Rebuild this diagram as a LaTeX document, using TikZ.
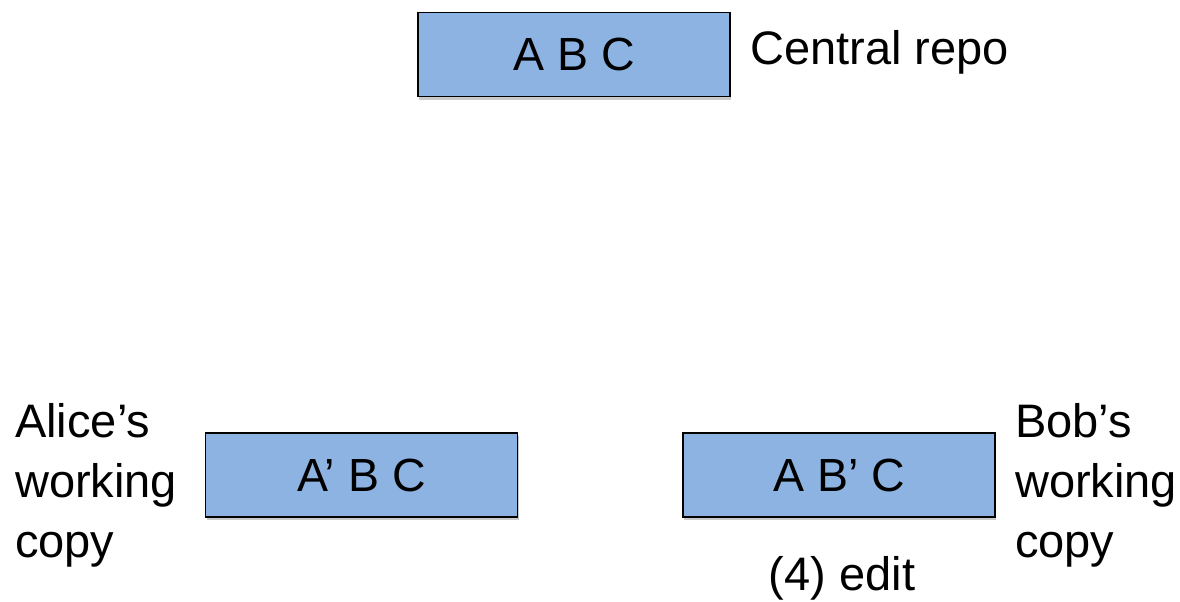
\documentclass[tikz,border=0pt]{standalone}
\usepackage{fontspec}
\setmainfont{Liberation Sans}
\usetikzlibrary{shadows}
\definecolor{boxblue}{HTML}{8DB3E2}
\begin{document}
\begin{tikzpicture}[x=1pt,y=-1pt,
  repobox/.style={draw=black, line width=1.5pt, fill=boxblue, minimum width=312pt, minimum height=84pt, inner sep=0pt,
    font=\fontsize{46.5}{60}\selectfont,
    drop shadow={shadow xshift=1pt, shadow yshift=-3pt, opacity=0.35, fill=black!60}},
  lbl/.style={font=\fontsize{47}{60}\selectfont, inner sep=0pt, align=left}]
\useasboundingbox (0,0) rectangle (1180,602);
\node[repobox] (central) at (574,54.5) {A B C};
\node[repobox] (alice) at (361.5,475) {A’ B C};
\node[repobox] (bob) at (839,475) {A B’ C};
\node[lbl, anchor=base west] (centrallbl) at (750,64) {Central repo};
\node[lbl, anchor=base west] (alicelbl) at (15,557) {Alice’s\\working\\copy};
\node[lbl, anchor=base west] (boblbl) at (1015,557) {Bob’s\\working\\copy};
\node[lbl, anchor=base] (edit) at (842,590) {(4) edit};
\end{tikzpicture}
\end{document}
